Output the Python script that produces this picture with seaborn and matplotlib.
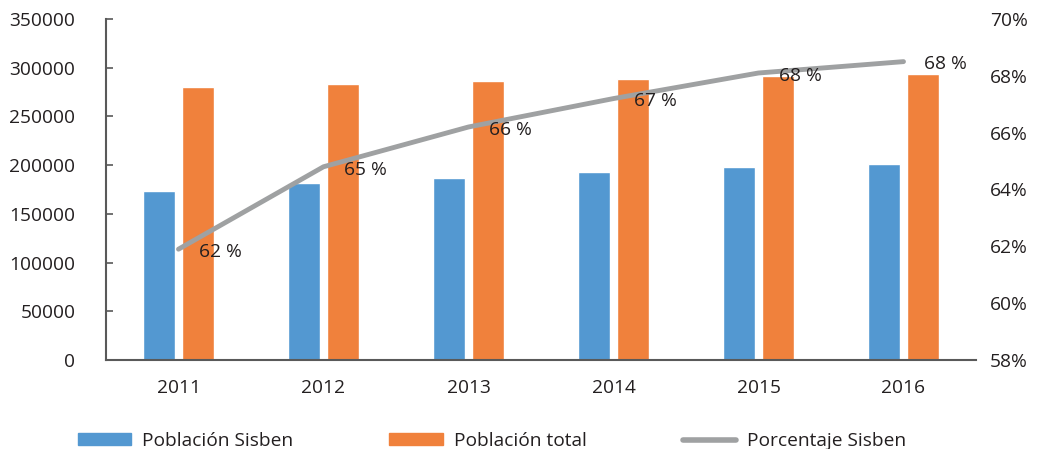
import numpy as np
import pandas as pd
import matplotlib
matplotlib.use("Agg")
import matplotlib.pyplot as plt
from matplotlib.patches import Patch
from matplotlib.lines import Line2D
import seaborn as sns

anios = ["2011", "2012", "2013", "2014", "2015", "2016"]
poblacion_sisben = [173500, 181700, 187100, 192600, 198100, 200900]
poblacion_total = [280200, 283000, 286000, 288400, 291500, 293900]
porcentaje_sisben = [61.9, 64.8, 66.2, 67.2, 68.1, 68.5]
series = ["Población Sisben", "Población total"]
etiqueta_linea = "Porcentaje Sisben"

azul = "#5398d1"
naranja = "#f0813c"
gris = "#9fa1a2"
texto = "#231f20"
eje = "#595959"

sns.set_style("white")
plt.rcParams["font.family"] = ["Open Sans", "DejaVu Sans"]
plt.rcParams["font.size"] = 13.8
plt.rcParams["text.color"] = texto
plt.rcParams["xtick.color"] = texto
plt.rcParams["ytick.color"] = texto

df = pd.DataFrame({
    "anio": anios * 2,
    "serie": [series[0]] * len(anios) + [series[1]] * len(anios),
    "valor": poblacion_sisben + poblacion_total,
})

fig = plt.figure(figsize=(10.41, 4.49), dpi=100)
ax = fig.add_axes([106 / 1041, 89 / 449, 870 / 1041, 341 / 449])

# barras
sns.barplot(data=df, x="anio", y="valor", hue="serie", palette=[azul, naranja],
            width=0.55, gap=0.2, saturation=1, errorbar=None, legend=False, ax=ax)
ax.set_xlim(-0.5, 5.5)
ax.set_ylim(0, 350000)
ax.set_yticks(np.arange(0, 350001, 50000))
ax.set_yticklabels([f"{int(v)}" for v in np.arange(0, 350001, 50000)])
ax.set_xlabel("")
ax.set_ylabel("")

ax.set_xticks(np.arange(0.5, 6, 1), minor=True)
ax.tick_params(axis="x", which="major", length=0, pad=14)
ax.tick_params(axis="x", which="minor", length=4, width=1.2, color=eje, direction="out")
ax.tick_params(axis="y", length=5, width=1.2, color=eje, direction="in", pad=22, left=True)
for lado in ["top", "right"]:
    ax.spines[lado].set_visible(False)
for lado in ["left", "bottom"]:
    ax.spines[lado].set_color(eje)
    ax.spines[lado].set_linewidth(1.5)

# linea porcentaje
ax2 = ax.twinx()
x_pos = np.arange(len(anios))
sns.lineplot(x=x_pos, y=porcentaje_sisben, color=gris, linewidth=3.5, ax=ax2,
             solid_capstyle="round")
ax2.set_ylim(58, 70)
ax2.set_yticks(np.arange(58, 70.1, 2))
ax2.set_yticklabels([f"{int(v)}%" for v in np.arange(58, 70.1, 2)])
ax2.tick_params(axis="y", length=0, pad=10)
for lado in ax2.spines:
    ax2.spines[lado].set_visible(False)
ax2.set_xlim(-0.5, 5.5)

for xi, v in zip(x_pos, porcentaje_sisben):
    ax2.annotate(f"{v:.0f} %", (xi, v), xytext=(15, -2), textcoords="offset points",
                 ha="left", va="center", color=texto)

handles = [Patch(color=azul), Patch(color=naranja),
           Line2D([0], [0], color=gris, linewidth=4, solid_capstyle="round")]
fig.legend(handles, series + [etiqueta_linea], loc="center left",
           bbox_to_anchor=(70 / 1041, 8 / 449), ncol=3, frameon=False,
           borderaxespad=0, handlelength=2.8, handleheight=0.55, handletextpad=0.57,
           columnspacing=5.0)

fig.savefig("out.png", dpi=100)
